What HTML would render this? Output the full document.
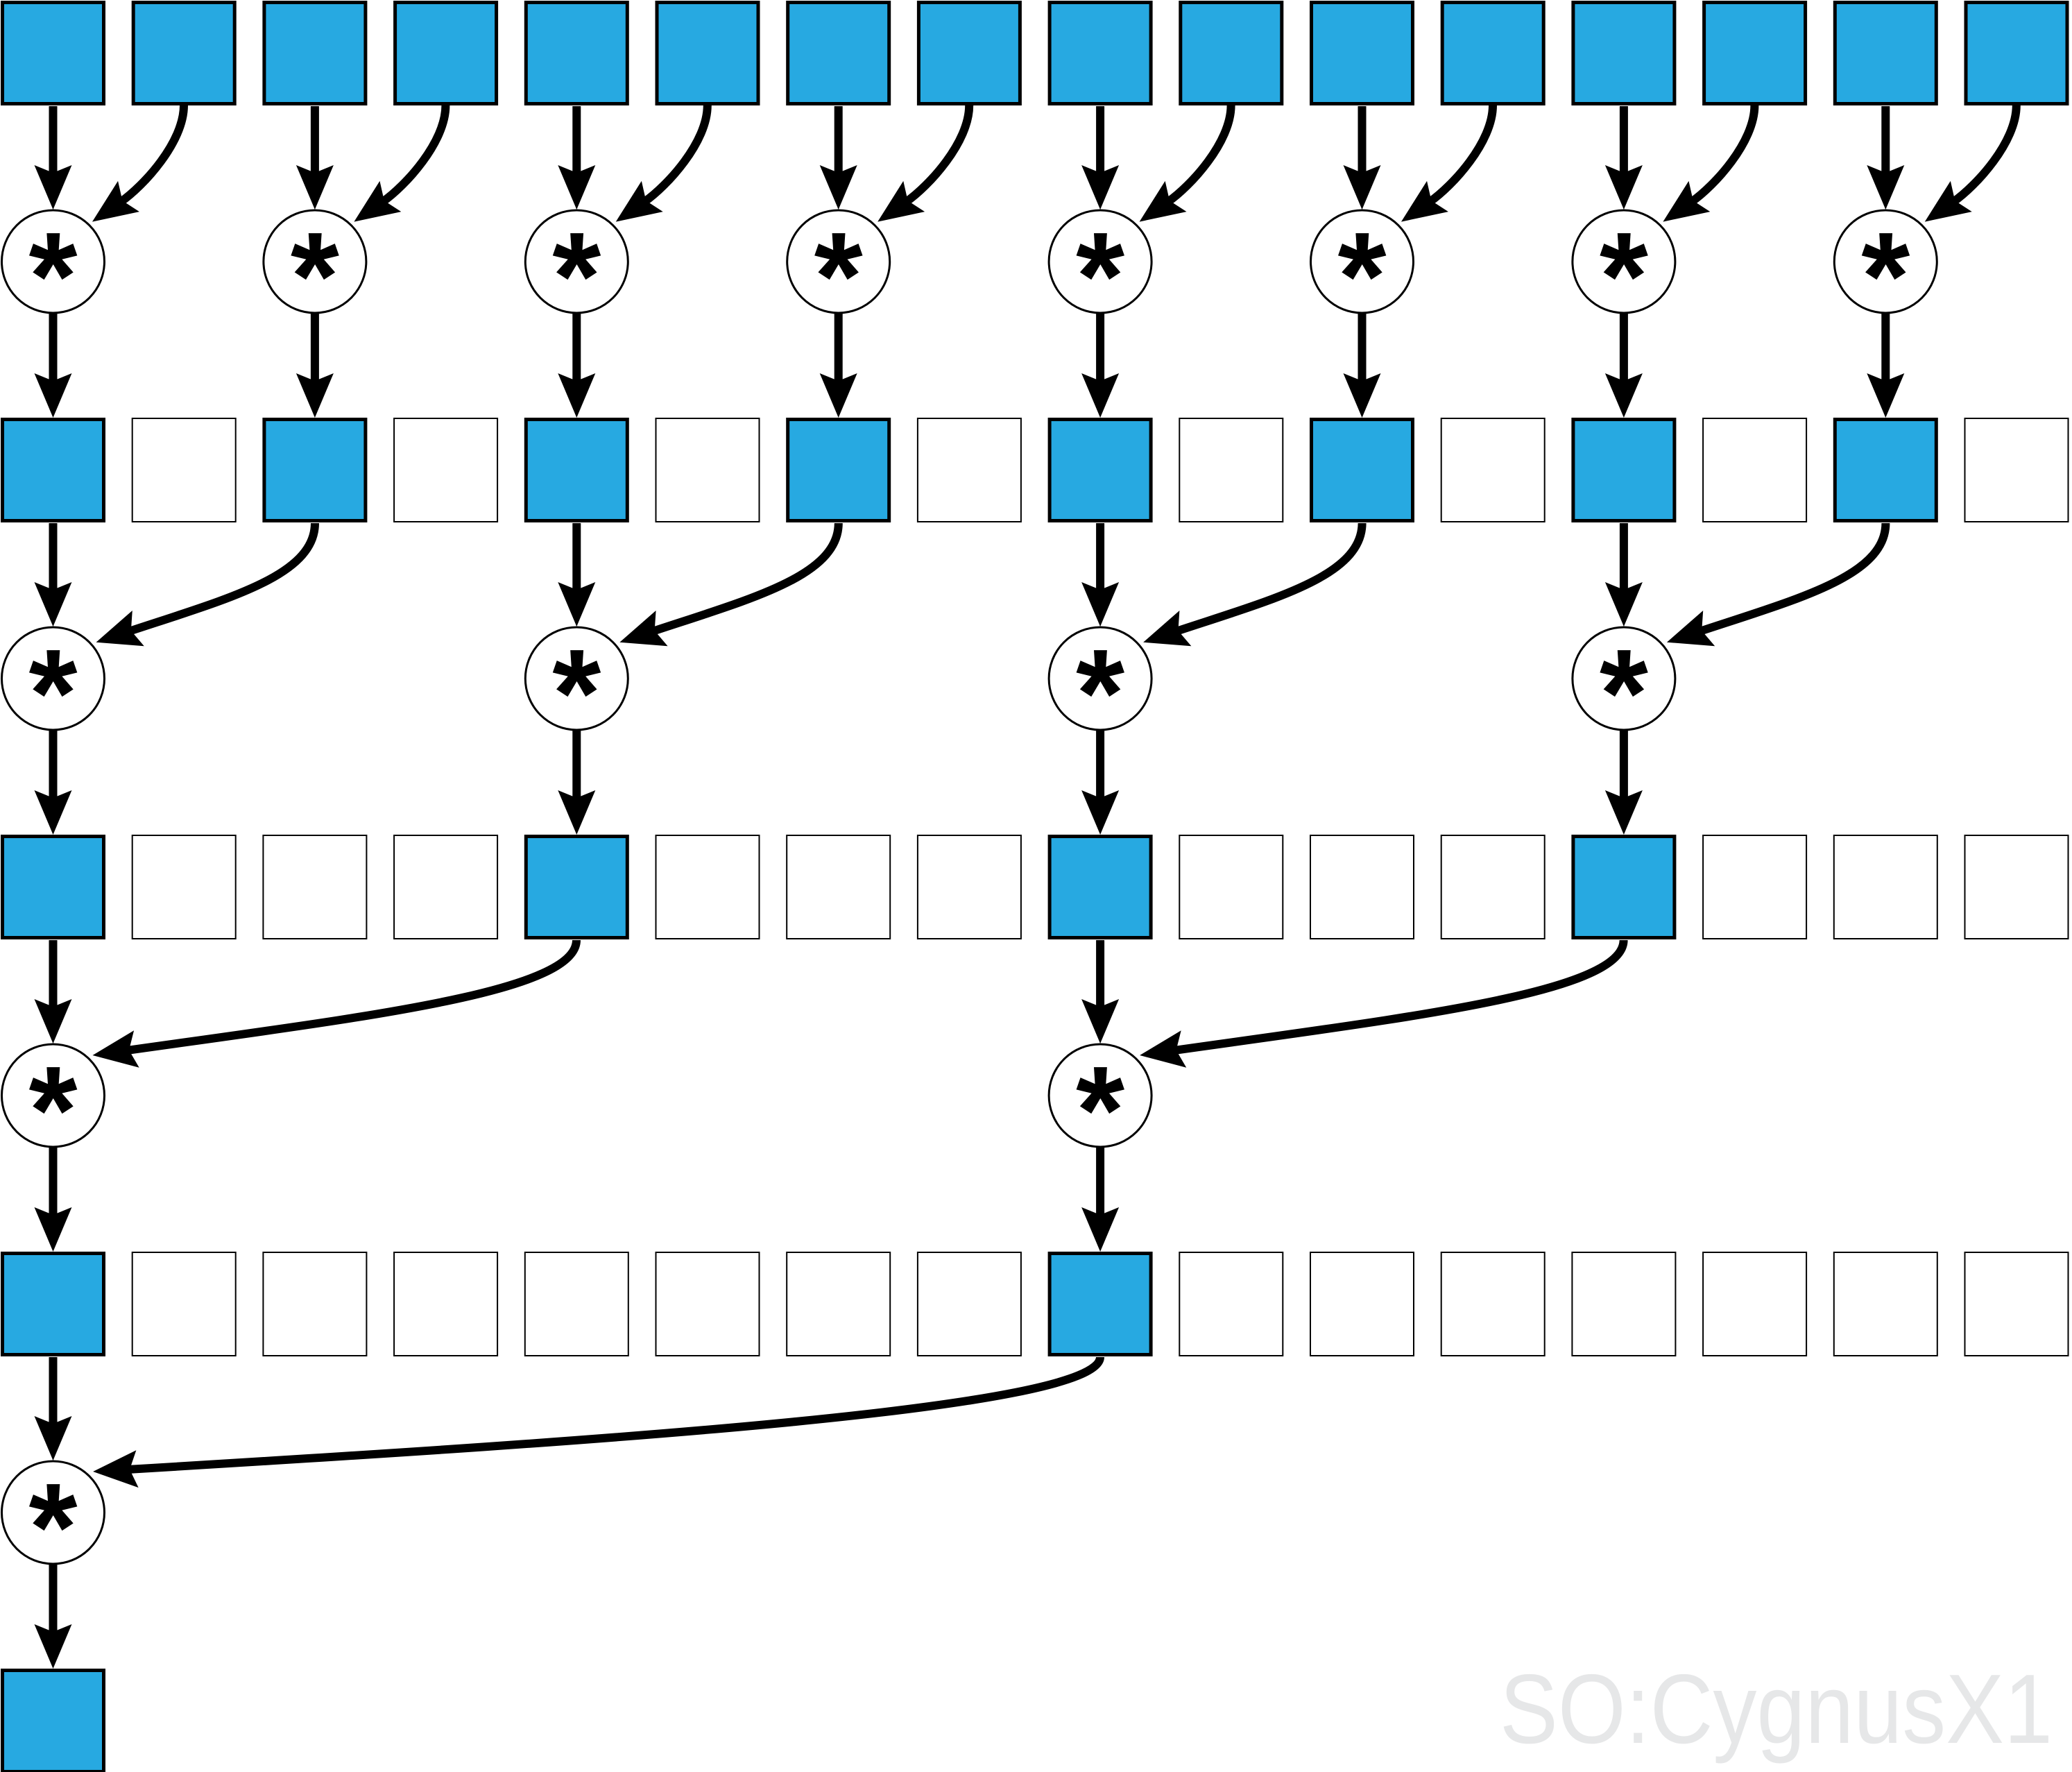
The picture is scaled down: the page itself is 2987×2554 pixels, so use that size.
<!DOCTYPE html>
<html><head><meta charset="utf-8"><style>html,body{margin:0;padding:0;background:#fff}svg{display:block}</style></head>
<body>
<svg id="s" xmlns="http://www.w3.org/2000/svg" width="2987" height="2554" viewBox="0 0 2987 2554">
<defs>
<marker id="ah" markerUnits="userSpaceOnUse" markerWidth="90" markerHeight="70" viewBox="0 -35 90 70" refX="14" refY="0" orient="auto" overflow="visible">
<path d="M0,-27 L64,0 L0,27 L11,0 Z" fill="#000"/>
</marker>
</defs>
<g id="g"></g>
<text x="2162" y="2512" font-family="Liberation Sans, sans-serif" font-size="142" fill="#e6e7e8" textLength="797" lengthAdjust="spacingAndGlyphs">SO:CygnusX1</text>
</svg>
<script>
(function(){
var g=document.getElementById('g'),h='';
function cx(i){return 76.5+188.7*i;}
var R=[1,602,1203,1804,2405];
var W=151;
for(var r=0;r<5;r++){
  var n=(r==4)?1:16;
  for(var i=0;i<n;i++){
    var filled=(i%Math.pow(2,r)==0);
    var x=cx(i)-75.5;
    if(filled) h+='<rect x="'+(x+2.5)+'" y="'+(R[r]+2.5)+'" width="'+(W-5)+'" height="'+(W-5)+'" fill="#27a9e1" stroke="#000" stroke-width="5"/>';
    else h+='<rect x="'+(x+1)+'" y="'+(R[r]+1)+'" width="'+(W-2)+'" height="'+(W-2)+'" fill="#fff" stroke="#000" stroke-width="2"/>';
  }
}
var curves=[
 'M265,152 C265,205 207,268 174,291',
 'M454,754 C454,830 328,863 186,910',
 'M831,1355 C831,1430 530,1465 183,1514',
 'M1586,1956 C1586,2030 883,2076 184,2118'
];
for(var L=0;L<4;L++){
  var step=Math.pow(2,L),st=step*2;
  var Y=R[L];
  for(var i=0;i<16;i+=st){
    var x=cx(i),dx=x-76.5,cy=Y+376;
    h+='<path d="M'+x+','+(Y+152)+' V'+(Y+251)+'" stroke="#000" stroke-width="12" fill="none" marker-end="url(#ah)"/>';
    h+='<path d="M'+x+','+(cy+75)+' V'+(R[L+1]-50)+'" stroke="#000" stroke-width="12" fill="none" marker-end="url(#ah)"/>';
    h+='<path transform="translate('+dx+',0)" d="'+curves[L]+'" stroke="#000" stroke-width="12" fill="none" marker-end="url(#ah)"/>';
    h+='<circle cx="'+x+'" cy="'+cy+'" r="74" fill="#fff" stroke="#000" stroke-width="3"/>';
    h+='<text x="'+x+'" y="'+(cy+83)+'" text-anchor="middle" font-family="Liberation Sans, sans-serif" font-weight="bold" font-size="180" fill="#000">*</text>';
  }
}
g.innerHTML=h;
})();
</script>
</body></html>
